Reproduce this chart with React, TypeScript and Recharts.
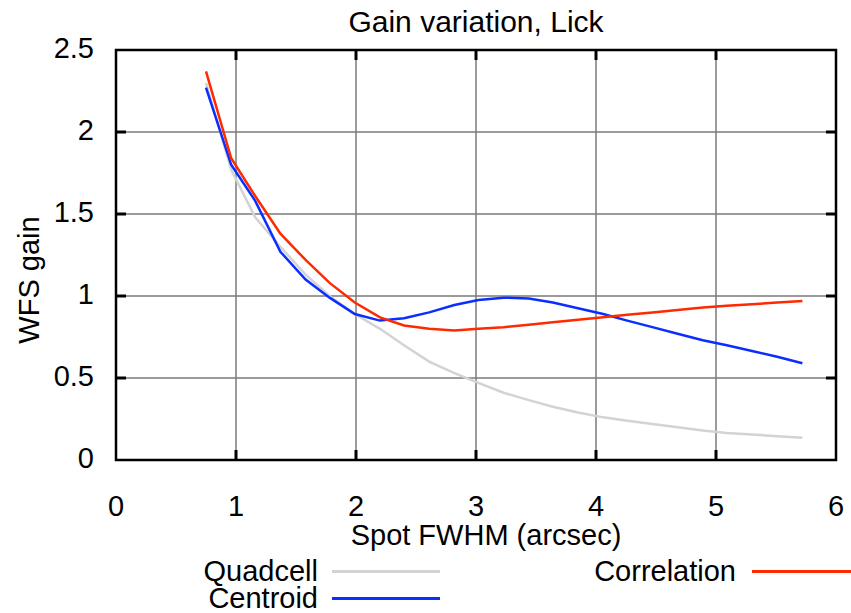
import React from "react";
import {
  LineChart,
  Line,
  XAxis,
  YAxis,
  Legend,
  Label,
  ReferenceArea,
  ReferenceLine,
} from "recharts";

const FONT = '"Liberation Sans", Arial, Helvetica, sans-serif';
const FS = 29;

// Spot FWHM (arcsec)
const fwhm = [
  0.75, 0.96, 1.16, 1.37, 1.58, 1.78, 1.99, 2.2, 2.4, 2.61, 2.82, 3.02, 3.23,
  3.44, 3.64, 3.85, 4.06, 4.26, 4.47, 4.68, 4.89, 5.09, 5.3, 5.51, 5.72,
];

const quadcell = [
  2.3, 1.77, 1.48, 1.3, 1.13, 1.0, 0.89, 0.8, 0.7, 0.6, 0.53, 0.47, 0.41,
  0.365, 0.325, 0.29, 0.26, 0.24, 0.22, 0.2, 0.18, 0.165, 0.155, 0.145, 0.135,
];

const centroid = [
  2.27, 1.8, 1.58, 1.27, 1.1, 0.99, 0.89, 0.85, 0.865, 0.9, 0.945, 0.975, 0.99,
  0.985, 0.96, 0.925, 0.89, 0.85, 0.81, 0.77, 0.73, 0.7, 0.665, 0.63, 0.59,
];

const correlation = [
  2.37, 1.84, 1.61, 1.38, 1.22, 1.08, 0.96, 0.87, 0.82, 0.8, 0.79, 0.8, 0.81,
  0.825, 0.84, 0.855, 0.87, 0.885, 0.9, 0.915, 0.93, 0.94, 0.95, 0.96, 0.97,
];

const xTicks = [0, 1, 2, 3, 4, 5, 6];
const yTicks = [0, 0.5, 1, 1.5, 2, 2.5];
const X_MAX = 6;
const Y_MAX = 2.5;

// chart layout
const W = 851;
const H = 613;
const MARGIN = { top: 50, right: 15, bottom: 30, left: 0 };
const Y_AXIS_W = 116;
const X_AXIS_H = 60;
const LEGEND_H = 63;
const PLOT_W = W - MARGIN.left - MARGIN.right - Y_AXIS_W;
const PLOT_H = H - MARGIN.top - MARGIN.bottom - X_AXIS_H - LEGEND_H;
const TICK_LEN = 10;

const data = fwhm.map((x, i) => ({
  x,
  quadcell: quadcell[i],
  centroid: centroid[i],
  correlation: correlation[i],
}));

const innerX = xTicks.slice(1, -1);
const innerY = yTicks.slice(1, -1);

// bottom tick label + inward ticks on bottom and top edges
const XTick = (props: any) => {
  const { x, y, payload } = props;
  const inner = payload.value > 0 && payload.value < X_MAX;
  return (
    <g>
      {inner && (
        <>
          <line x1={x} x2={x} y1={y} y2={y - TICK_LEN} stroke="#000" strokeWidth={3} />
          <line
            x1={x}
            x2={x}
            y1={y - PLOT_H}
            y2={y - PLOT_H + TICK_LEN}
            stroke="#000"
            strokeWidth={3}
          />
        </>
      )}
      <text
        x={x}
        y={y + 46}
        textAnchor="middle"
        dominantBaseline="central"
        fontSize={FS}
        fontFamily={FONT}
        fill="#000"
      >
        {payload.value}
      </text>
    </g>
  );
};

// left tick label + inward ticks on left and right edges
const YTick = (props: any) => {
  const { x, y, payload } = props;
  const inner = payload.value > 0 && payload.value < Y_MAX;
  return (
    <g>
      {inner && (
        <>
          <line x1={x} x2={x + TICK_LEN} y1={y} y2={y} stroke="#000" strokeWidth={3} />
          <line
            x1={x + PLOT_W}
            x2={x + PLOT_W - TICK_LEN}
            y1={y}
            y2={y}
            stroke="#000"
            strokeWidth={3}
          />
        </>
      )}
      <text
        x={x - 22}
        y={y - 2}
        textAnchor="end"
        dominantBaseline="central"
        fontSize={FS}
        fontFamily={FONT}
        fill="#000"
      >
        {payload.value}
      </text>
    </g>
  );
};

const LegendBox = (props: any) => {
  const items = props.payload || [];
  const find = (k: string) => items.find((p: any) => p.dataKey === k);
  const entry = (k: string, textRight: number, lineLeft: number, lineWidth: number, top: number) => {
    const p = find(k);
    if (!p) return null;
    return (
      <React.Fragment key={k}>
        <div
          style={{
            position: "absolute",
            right: W - textRight,
            top: top - 14,
            fontSize: FS,
            lineHeight: "28px",
            fontFamily: FONT,
            color: "#000",
            whiteSpace: "nowrap",
          }}
        >
          {p.value}
        </div>
        <div
          style={{
            position: "absolute",
            left: lineLeft,
            top: top - 1.5,
            width: lineWidth,
            height: 3,
            background: p.color,
          }}
        />
      </React.Fragment>
    );
  };
  return (
    <div style={{ position: "relative", width: W, height: LEGEND_H }}>
      {entry("quadcell", 318, 332, 108, 21)}
      {entry("centroid", 318, 332, 108, 48)}
      {entry("correlation", 736, 752, 99, 21)}
    </div>
  );
};

export default function App() {
  return (
    <div style={{ position: "absolute", left: 0, top: 0, width: W, height: H, background: "#fff", overflow: "hidden" }}>
      <div
        style={{
          position: "absolute",
          left: Y_AXIS_W,
          width: PLOT_W,
          top: 5,
          textAlign: "center",
          fontSize: 30,
          lineHeight: "34px",
          fontFamily: FONT,
          color: "#000",
        }}
      >
        Gain variation, Lick
      </div>
      <LineChart width={W} height={H} data={data} margin={MARGIN}>
        {/* grid */}
        {innerX.map((t) => (
          <ReferenceLine key={`gx${t}`} x={t} stroke="#7a7a7a" strokeWidth={1.5} />
        ))}
        {innerY.map((t) => (
          <ReferenceLine key={`gy${t}`} y={t} stroke="#7a7a7a" strokeWidth={1.5} />
        ))}
        <ReferenceArea
          x1={0}
          x2={X_MAX}
          y1={0}
          y2={Y_MAX}
          fill="none"
          fillOpacity={0}
          stroke="#000"
          strokeWidth={2.5}
          ifOverflow="visible"
        />
        <XAxis
          dataKey="x"
          type="number"
          domain={[0, X_MAX]}
          ticks={xTicks}
          height={X_AXIS_H}
          tickSize={0}
          tickMargin={0}
          tickLine={false}
          axisLine={false}
          tick={<XTick />}
          interval={0}
        >
          <Label
            value="Spot FWHM (arcsec)"
            content={(p: any) => {
              const vb = p.viewBox;
              return (
                <text
                  x={vb.x + vb.width / 2 + 10}
                  y={vb.y + 75}
                  textAnchor="middle"
                  dominantBaseline="central"
                  fontSize={FS}
                  fontFamily={FONT}
                  fill="#000"
                >
                  Spot FWHM (arcsec)
                </text>
              );
            }}
          />
        </XAxis>
        <YAxis
          type="number"
          domain={[0, Y_MAX]}
          ticks={yTicks}
          width={Y_AXIS_W}
          tickSize={0}
          tickMargin={0}
          tickLine={false}
          axisLine={false}
          tick={<YTick />}
          interval={0}
        >
          <Label
            value="WFS gain"
            content={(p: any) => {
              const vb = p.viewBox;
              const cx = 29;
              const cy = vb.y + vb.height / 2 + 25;
              return (
                <text
                  x={cx}
                  y={cy}
                  transform={`rotate(-90, ${cx}, ${cy})`}
                  textAnchor="middle"
                  dominantBaseline="central"
                  fontSize={FS}
                  fontFamily={FONT}
                  fill="#000"
                >
                  WFS gain
                </text>
              );
            }}
          />
        </YAxis>
        <Legend
          verticalAlign="bottom"
          content={<LegendBox />}
          wrapperStyle={{ position: "absolute", left: 0, top: 550, width: W, height: LEGEND_H }}
        />
        <Line
          type="linear"
          dataKey="quadcell"
          name="Quadcell"
          stroke="#d3d3d3"
          strokeWidth={2.5}
          dot={false}
          isAnimationActive={false}
        />
        <Line
          type="linear"
          dataKey="centroid"
          name="Centroid"
          stroke="#0a2eff"
          strokeWidth={2.5}
          dot={false}
          isAnimationActive={false}
        />
        <Line
          type="linear"
          dataKey="correlation"
          name="Correlation"
          stroke="#ff2a00"
          strokeWidth={2.5}
          dot={false}
          isAnimationActive={false}
        />
      </LineChart>
    </div>
  );
}
